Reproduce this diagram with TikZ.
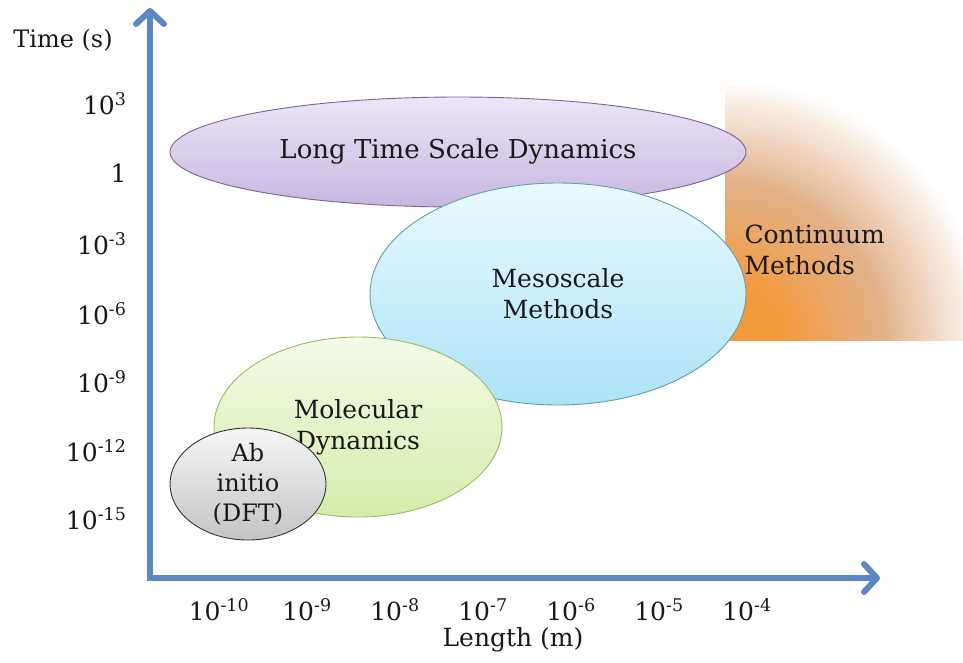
\documentclass[tikz,border=0pt]{standalone}
\usepackage{fontspec}
\setmainfont{DejaVu Serif}
\usetikzlibrary{arrows.meta,shapes.geometric}

\definecolor{axisblue}{HTML}{5B87C2}
\definecolor{contorange}{HTML}{F39A3D}
\definecolor{conttan}{HTML}{E2B28A}
\definecolor{ltstop}{HTML}{ECE6F6}
\definecolor{ltsbot}{HTML}{C6B6E0}
\definecolor{ltsline}{HTML}{76649A}
\definecolor{mesotop}{HTML}{EAFAFE}
\definecolor{mesobot}{HTML}{ACE2F6}
\definecolor{mesoline}{HTML}{5C9EB2}
\definecolor{mdtop}{HTML}{F4FAE8}
\definecolor{mdbot}{HTML}{D4ECAA}
\definecolor{mdline}{HTML}{9CBA66}
\definecolor{dfttop}{HTML}{F6F6F6}
\definecolor{dftbot}{HTML}{C4C4C4}

\begin{document}
\begin{tikzpicture}[x=1pt,y=-1pt,
  every node/.style={text=black!90},
  lbl/.style={font=\fontsize{25}{31}\selectfont, align=center},
  tick/.style={font=\fontsize{25}{28}\selectfont},
  blob/.style={ellipse, draw, line width=0.9pt, inner sep=0pt},
  axis/.style={draw=axisblue, line width=6pt,
    -{Straight Barb[length=13pt,width=28pt,round]}}]
\useasboundingbox (0,0) rectangle (963,662);

% continuum region, fading out from its lower left corner
\coordinate (cc) at (725,342);
\begin{scope}
\clip (725,85) rectangle (963,340);
\foreach \r in {272,268,...,4}{
  \pgfmathtruncatemacro\f{max(0,min(100,(265-\r)/2.05))}
  \pgfmathtruncatemacro\fa{max(0,2*\f-100)}
  \pgfmathtruncatemacro\fb{min(100,2*\f)}
  \ifnum\f>50
    \fill[contorange!\fa!conttan] (cc) circle (\r);
  \else
    \fill[conttan!\fb!white] (cc) circle (\r);
  \fi
}
\end{scope}
\node[lbl, align=left, anchor=west] (cont) at (741,250) {Continuum\\Methods};

% axes
\coordinate (O) at (150,578);
\coordinate (ytop) at (150,8);
\coordinate (xend) at (880,578);
\draw[axis] ([yshift=3pt]O) -- (ytop);
\draw[axis] ([xshift=-3pt]O) -- (xend);

\node[lbl, font=\fontsize{24}{28}\selectfont] (ylab) at (63,40) {Time (s)};
\node[lbl] (xlab) at (513,640) {Length (m)};

\foreach \e [count=\i from 0] in {-10,-9,-8,-7,-6,-5,-4}
  \node[tick] (tx\i) at ({219+88*\i},610) {10\textsuperscript{\e}};
\foreach \yy/\e [count=\i] in {104/3,244/-3,314/-6,382/-9,451/-12,519/-15}
  \node[tick, anchor=east] (ty\i) at (130,\yy) {10\textsuperscript{\e}};
\node[tick, anchor=east] (ty0) at (130,173) {1};

% method regions
\node[blob, draw=ltsline, top color=ltstop, bottom color=ltsbot,
  minimum width=576pt, minimum height=110pt] (lts) at (458,152) {};
\node[lbl, font=\fontsize{26}{31}\selectfont] at (lts) {Long Time Scale Dynamics};

\node[blob, draw=mesoline, top color=mesotop, bottom color=mesobot,
  minimum width=376pt, minimum height=222pt] (meso) at (558,294) {};
\node[lbl] at (meso) {Mesoscale\\Methods};

\node[blob, draw=mdline, top color=mdtop, bottom color=mdbot,
  minimum width=288pt, minimum height=180pt] (md) at (358,427) {};
\node[lbl] at (md) {Molecular\\Dynamics};

\node[blob, draw=black!80, top color=dfttop, bottom color=dftbot,
  minimum width=156pt, minimum height=112pt] (dft) at (248,484) {};
\node[lbl, font=\fontsize{24}{30}\selectfont] at (dft) {Ab\\initio\\(DFT)};
\end{tikzpicture}
\end{document}
